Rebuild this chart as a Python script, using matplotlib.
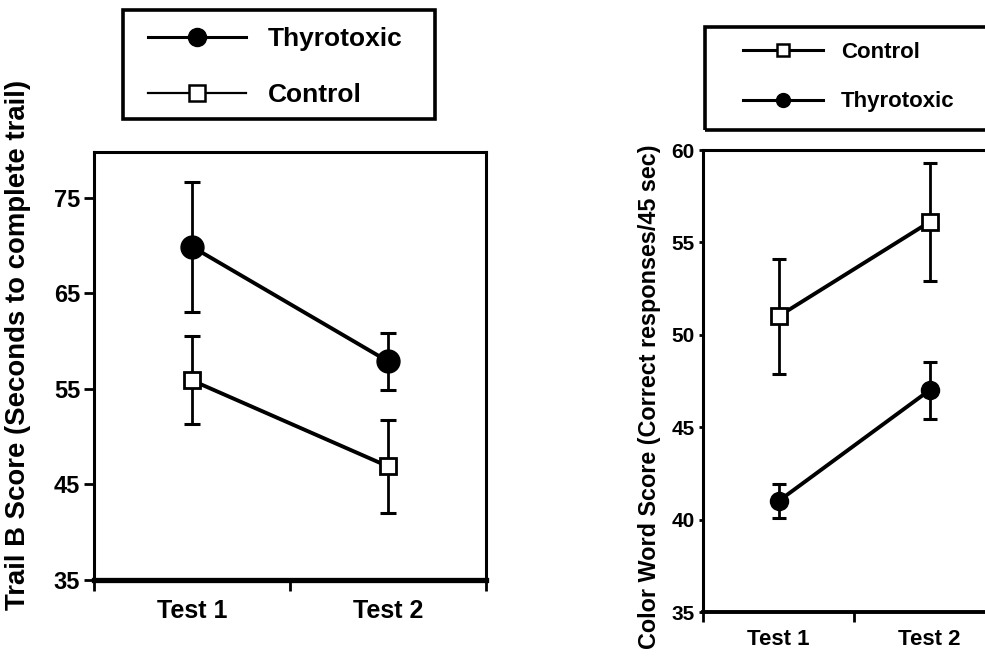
import matplotlib
matplotlib.use("Agg")
import matplotlib.pyplot as plt
from matplotlib.lines import Line2D
from matplotlib.patches import Rectangle

plt.rcParams['font.family'] = ['Liberation Sans', 'DejaVu Sans']
plt.rcParams['font.weight'] = 'bold'

# ---------------- data ----------------
tests = ["Test 1", "Test 2"]

# Left panel: Trail B score
trail_thyro = [69.9, 57.9]
trail_thyro_err = [6.8, 3.0]
trail_ctrl = [55.9, 46.9]
trail_ctrl_err = [4.6, 4.85]
trail_yticks = [35, 45, 55, 65, 75]

# Right panel: Color Word score
cw_ctrl = [51.0, 56.1]
cw_ctrl_err = [3.1, 3.2]
cw_thyro = [41.0, 47.0]
cw_thyro_err = [0.9, 1.55]
cw_yticks = [35, 40, 45, 50, 55, 60]

W, H = 985, 661
fig = plt.figure(figsize=(W / 100, H / 100), dpi=100)


def fx(px):
    return px / W


def fy(py):
    return 1 - py / H


xpos = [0.5, 1.5]

# ---------------- left panel ----------------
L0, L1, LT, LB = 94, 486, 152, 580
axL = fig.add_axes([fx(L0), fy(LB), fx(L1 - L0), (LB - LT) / H])
axL.set_xlim(0, 2)
axL.set_ylim(35, 35 + (LB - LT) / 9.55)
for s in ['left', 'top', 'right']:
    axL.spines[s].set_linewidth(2.2)
axL.spines['bottom'].set_linewidth(3.8)

axL.errorbar(xpos, trail_thyro, yerr=trail_thyro_err, fmt='none', ecolor='black',
             elinewidth=2.0, capsize=5.5, capthick=2.2, zorder=2)
axL.errorbar(xpos, trail_ctrl, yerr=trail_ctrl_err, fmt='none', ecolor='black',
             elinewidth=2.0, capsize=5.5, capthick=2.2, zorder=2)
axL.plot(xpos, trail_thyro, color='black', lw=2.8, marker='o', markersize=16.5,
         markerfacecolor='black', zorder=3)
axL.plot(xpos, trail_ctrl, color='black', lw=2.8, marker='s', markersize=12,
         markerfacecolor='white', markeredgewidth=2.0, zorder=3)

axL.set_yticks(trail_yticks)
axL.set_yticklabels([str(v) for v in trail_yticks], fontsize=17, fontweight='bold')
axL.tick_params(axis='y', direction='out', length=7, width=2, pad=3)
axL.set_xticks([0, 1, 2])
axL.set_xticklabels([])
axL.tick_params(axis='x', which='major', direction='out', length=8, width=2)
axL.set_xticks(xpos, minor=True)
axL.set_xticklabels(tests, minor=True, fontsize=18, fontweight='bold')
axL.tick_params(axis='x', which='minor', length=0, pad=14)
axL.set_ylabel("Trail B Score (Seconds to complete trail)", fontsize=19.8,
               fontweight='bold')
axL.yaxis.set_label_coords((31 - L0) / (L1 - L0), (LB - 345) / (LB - LT))

# ---------------- right panel ----------------
R0, R1, RT, RB = 703, 1005, 150, 612
axR = fig.add_axes([fx(R0), fy(RB), fx(R1 - R0), (RB - RT) / H])
axR.set_xlim(0, 2)
axR.set_ylim(35, 60)
axR.spines['right'].set_visible(False)
axR.spines['left'].set_linewidth(2.2)
axR.spines['top'].set_linewidth(2.2)
axR.spines['bottom'].set_linewidth(2.8)

axR.errorbar(xpos, cw_ctrl, yerr=cw_ctrl_err, fmt='none', ecolor='black',
             elinewidth=2.0, capsize=5, capthick=2.2, zorder=2)
axR.errorbar(xpos, cw_thyro, yerr=cw_thyro_err, fmt='none', ecolor='black',
             elinewidth=2.0, capsize=5, capthick=2.2, zorder=2)
axR.plot(xpos, cw_ctrl, color='black', lw=2.8, marker='s', markersize=12,
         markerfacecolor='white', markeredgewidth=2.0, zorder=3)
axR.plot(xpos, cw_thyro, color='black', lw=2.8, marker='o', markersize=13,
         markerfacecolor='black', zorder=3)

axR.set_yticks(cw_yticks)
axR.set_yticklabels([str(v) for v in cw_yticks], fontsize=15, fontweight='bold')
axR.tick_params(axis='y', direction='out', length=3, width=2, pad=3)
axR.set_xticks([0, 1, 2])
axR.set_xticklabels([])
axR.tick_params(axis='x', which='major', direction='out', length=7, width=2)
axR.set_xticks(xpos, minor=True)
axR.set_xticklabels(tests, minor=True, fontsize=16, fontweight='bold')
axR.tick_params(axis='x', which='minor', length=0, pad=12)
axR.set_ylabel("Color Word Score (Correct responses/45 sec)", fontsize=16.8,
               fontweight='bold')
axR.yaxis.set_label_coords((661 - R0) / (R1 - R0), (RB - 397) / (RB - RT))

# ---------------- legends ----------------
fig.add_artist(Rectangle((fx(123), fy(119)), fx(435 - 123), (119 - 10) / H,
                         transform=fig.transFigure, fill=False, lw=2.6,
                         edgecolor='black'))
hL = [Line2D([], [], color='black', lw=2.2, marker='o', markersize=13,
             markerfacecolor='black'),
      Line2D([], [], color='black', lw=1.6, marker='s', markersize=11,
             markerfacecolor='white', markeredgewidth=1.8)]
fig.legend(hL, ["Thyrotoxic", "Control"], loc='center left',
           bbox_to_anchor=(fx(148), fy(67)), frameon=False, borderpad=0,
           borderaxespad=0, handlelength=3.7, handletextpad=0.85,
           labelspacing=1.2, prop={'size': 19, 'weight': 'bold'})

fig.add_artist(Rectangle((fx(705), fy(130)), fx(1010 - 705), (130 - 27) / H,
                         transform=fig.transFigure, fill=False, lw=2.6,
                         edgecolor='black', clip_on=False))
hR = [Line2D([], [], color='black', lw=2.2, marker='s', markersize=9,
             markerfacecolor='white', markeredgewidth=1.8),
      Line2D([], [], color='black', lw=2.2, marker='o', markersize=10,
             markerfacecolor='black')]
fig.legend(hR, ["Control", "Thyrotoxic"], loc='center left',
           bbox_to_anchor=(fx(743), fy(77)), frameon=False, borderpad=0,
           borderaxespad=0, handlelength=3.6, handletextpad=0.8,
           labelspacing=1.3, prop={'size': 16, 'weight': 'bold'})

fig.savefig("out.png", dpi=100)
